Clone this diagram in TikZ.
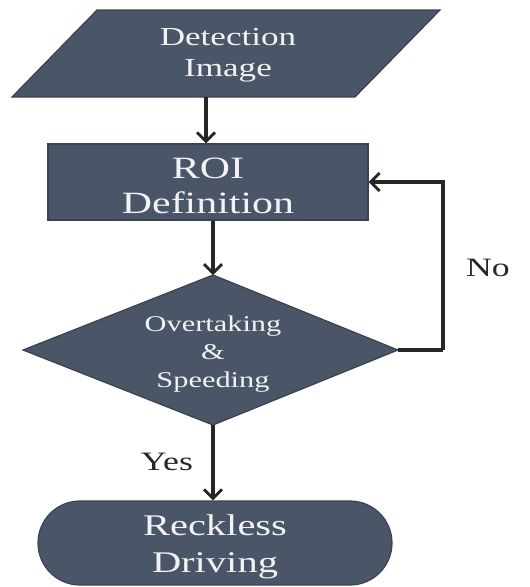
\documentclass[tikz,border=0pt]{standalone}
\usepackage{fontspec}
\setmainfont[FakeStretch=1.35]{Liberation Serif}
\usetikzlibrary{arrows.meta}
\definecolor{boxfill}{RGB}{74,85,104}
\definecolor{boxedge}{RGB}{58,66,82}
\definecolor{txt}{RGB}{242,242,242}
\begin{document}
\begin{tikzpicture}[x=1pt,y=-1pt,
  shapefill/.style={fill=boxfill,draw=boxedge,line width=1.2pt},
  lbl/.style={text=txt,align=center,inner sep=0pt},
  conn/.style={line width=3.4pt,draw=black!85,-{Straight Barb[length=9pt,width=18pt,line width=2.8pt]}},
  plain/.style={line width=3.4pt,draw=black!85},
  side/.style={text=black!85,inner sep=0pt}]
\useasboundingbox (0,0) rectangle (530,587);
% input parallelogram
\coordinate (pA) at (97,10);
\coordinate (pB) at (440,10);
\coordinate (pC) at (355,97);
\coordinate (pD) at (12,97);
\fill[shapefill] (pA) -- (pB) -- (pC) -- (pD) -- cycle;
\node[lbl,font=\fontsize{26}{31}\selectfont] (det) at (228,55) {Detection\\Image};
\coordinate (detbot) at (206,97);
% ROI rectangle
\node[shapefill,minimum width=320pt,minimum height=76pt,inner sep=0pt] (roi) at (208,182) {};
\node[lbl,font=\fontsize{31}{35}\selectfont] (roitxt) at (208,186) {ROI\\Definition};
% diamond
\coordinate (dT) at (213,275);
\coordinate (dR) at (398,350);
\coordinate (dB) at (213,425);
\coordinate (dL) at (23,350);
\fill[shapefill] (dT) -- (dR) -- (dB) -- (dL) -- cycle;
\node[lbl,font=\fontsize{22.5}{28}\selectfont] (dec) at (213,354) {Overtaking\\\&\\Speeding};
% terminal
\node[shapefill,minimum width=354pt,minimum height=84pt,rounded corners=42pt,inner sep=0pt] (term) at (215,543) {};
\node[lbl,font=\fontsize{30}{37}\selectfont] (termtxt) at (215,547) {Reckless\\Driving};
% connectors
\draw[conn] (detbot) -- (roi.north -| detbot);
\draw[conn] (roi.south -| dT) -- (dT);
\draw[conn] (dB) -- (term.north -| dB);
\coordinate (loopc) at (443,350);
\draw[plain] (dR) -- (loopc);
\draw[conn] (loopc) |- (roi.east);
% labels
\node[side,font=\fontsize{26.5}{30}\selectfont] (no) at (488,268) {No};
\node[side,font=\fontsize{26.5}{30}\selectfont] (yes) at (167,462) {Yes};
\end{tikzpicture}
\end{document}
